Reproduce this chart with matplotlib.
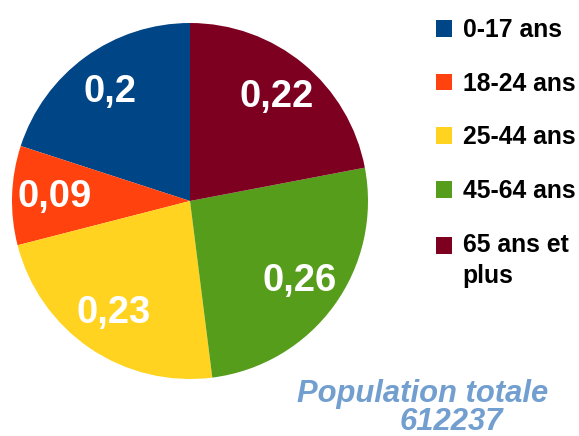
import matplotlib
matplotlib.use("Agg")
import matplotlib.pyplot as plt

plt.rcParams['font.family'] = ['Liberation Sans', 'DejaVu Sans']

# Répartition de la population par tranche d'âge
categories = ["0-17 ans", "18-24 ans", "25-44 ans", "45-64 ans", "65 ans et\nplus"]
values = [0.2, 0.09, 0.23, 0.26, 0.22]
colors = ["#004586", "#ff420e", "#ffd320", "#579d1c", "#7e0021"]
total_title = "Population totale"
total_value = "612237"

fig = plt.figure(figsize=(5.79, 4.36), dpi=100)
ax = fig.add_axes([12 / 579, 57 / 436, 356 / 579, 356 / 436])


def fmt(pct):
    v = round(pct / 100 * sum(values), 2)
    return f"{v:g}".replace(".", ",")


wedges, texts, autotexts = ax.pie(
    values, colors=colors, startangle=90, counterclock=True,
    autopct=fmt, pctdistance=0.76, radius=1,
    textprops=dict(color="white", fontsize=27.5, fontweight="bold"),
)
ax.set_xlim(-1, 1)
ax.set_ylim(-1, 1)
ax.set_aspect("equal")
ax.axis("off")

leg = fig.legend(
    wedges, categories, loc="upper left",
    bbox_to_anchor=(436 / 579, 1 - 18 / 436),
    frameon=False, borderpad=0, borderaxespad=0,
    handlelength=0.66, handleheight=0.66, handletextpad=0.42,
    labelspacing=1.2,
    prop=dict(size=17.8, weight="bold"),
)
# two-line label: wider line gap, square next to the first line
leg.get_texts()[-1].set_linespacing(1.38)
last = leg.legend_handles[-1]
last.set_y(last.get_y() + 11.2)

fig.text(297 / 579, 1 - 402 / 436, total_title, ha="left", va="baseline",
         fontsize=22.3, fontweight="bold", fontstyle="italic", color="#729fcf")
fig.text(400 / 579, 1 - 430 / 436, total_value, ha="left", va="baseline",
         fontsize=22.3, fontweight="bold", fontstyle="italic", color="#729fcf")

fig.savefig("out.png", dpi=100)
